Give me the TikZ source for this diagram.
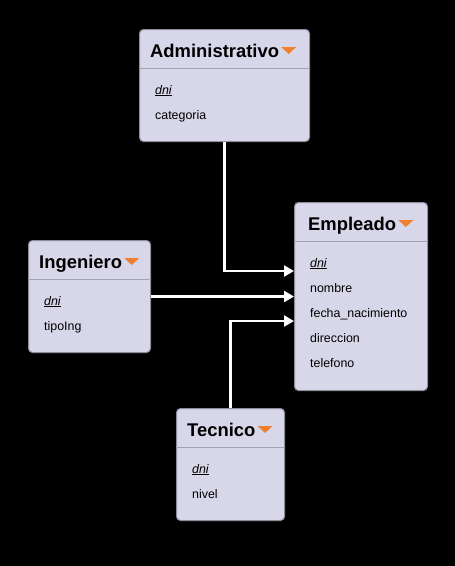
\documentclass[tikz,border=0pt]{standalone}
\usepackage{fontspec}
\setmainfont{Liberation Sans}
\usetikzlibrary{positioning, arrows.meta, calc}
\definecolor{boxfill}{RGB}{215,215,233}
\definecolor{boxline}{RGB}{140,140,155}
\definecolor{caretorange}{RGB}{240,128,48}
\tikzset{
entity/.style={draw=boxline, fill=boxfill, rounded corners=4pt, line width=1pt, anchor=north west, inner sep=0pt},
title/.style={anchor=base west, inner sep=0pt, font=\fontsize{18.4}{20}\bfseries\selectfont},
attr/.style={anchor=base west, inner sep=0pt, font=\fontsize{12.4}{14}\selectfont},
sep/.style={draw=boxline!80, line width=1pt},
link/.style={draw=white, line width=2.5pt, -{Triangle[length=10pt,width=11pt]}},
caret/.pic={\fill[caretorange] (0,0) -- (15,0) -- (7.5,7) -- cycle;},
}
\newcommand{\pk}[1]{\underline{\textit{#1}}}

\begin{document}
\begin{tikzpicture}[x=1pt, y=-1pt]
\fill[black] (0,0) rectangle (455,566);
\useasboundingbox (0,0) rectangle (455,566);

% Administrativo
\node[entity, minimum width=170, minimum height=112] (adm) at (139,29) {};
\node[title] (adm-t) at ($(adm.north west)+(11,28)$) {Administrativo};
\pic at ($(adm-t.base east)+(2,-10)$) {caret};
\draw[sep] ($(adm.north west)+(0,39)$) -- ($(adm.north east)+(0,39)$);
\node[attr] (adm-dni) at ($(adm.north west)+(16,65)$) {\pk{dni}};
\node[attr] (adm-cat) at ($(adm.north west)+(16,90)$) {categoria};

% Empleado
\node[entity, minimum width=133, minimum height=188] (emp) at (294,202) {};
\node[title] (emp-t) at ($(emp.north west)+(14,28)$) {Empleado};
\pic at ($(emp-t.base east)+(2,-10)$) {caret};
\draw[sep] ($(emp.north west)+(0,39)$) -- ($(emp.north east)+(0,39)$);
\node[attr] (emp-dni) at ($(emp.north west)+(16,65)$) {\pk{dni}};
\node[attr] (emp-nom) at ($(emp.north west)+(16,90)$) {nombre};
\node[attr] (emp-fec) at ($(emp.north west)+(16,115)$) {fecha\_nacimiento};
\node[attr] (emp-dir) at ($(emp.north west)+(16,140)$) {direccion};
\node[attr] (emp-tel) at ($(emp.north west)+(16,165)$) {telefono};
\coordinate (emp-in1) at ($(emp.north west)+(0,69)$);
\coordinate (emp-in3) at ($(emp.north west)+(0,119)$);

% Ingeniero
\node[entity, minimum width=122, minimum height=112] (ing) at (28,240) {};
\node[title] (ing-t) at ($(ing.north west)+(11,28)$) {Ingeniero};
\pic at ($(ing-t.base east)+(2,-10)$) {caret};
\draw[sep] ($(ing.north west)+(0,39)$) -- ($(ing.north east)+(0,39)$);
\node[attr] (ing-dni) at ($(ing.north west)+(16,65)$) {\pk{dni}};
\node[attr] (ing-tip) at ($(ing.north west)+(16,90)$) {tipoIng};

% Tecnico
\node[entity, minimum width=108, minimum height=112] (tec) at (176,408) {};
\node[title] (tec-t) at ($(tec.north west)+(11,28)$) {Tecnico};
\pic at ($(tec-t.base east)+(2,-10)$) {caret};
\draw[sep] ($(tec.north west)+(0,39)$) -- ($(tec.north east)+(0,39)$);
\node[attr] (tec-dni) at ($(tec.north west)+(16,65)$) {\pk{dni}};
\node[attr] (tec-niv) at ($(tec.north west)+(16,90)$) {nivel};

% herencia
\draw[link] (adm.south) |- (emp-in1);
\draw[link] (ing.east) -- (ing.east -| emp.west);
\draw[link] (tec.north) |- (emp-in3);

\end{tikzpicture}
\end{document}
